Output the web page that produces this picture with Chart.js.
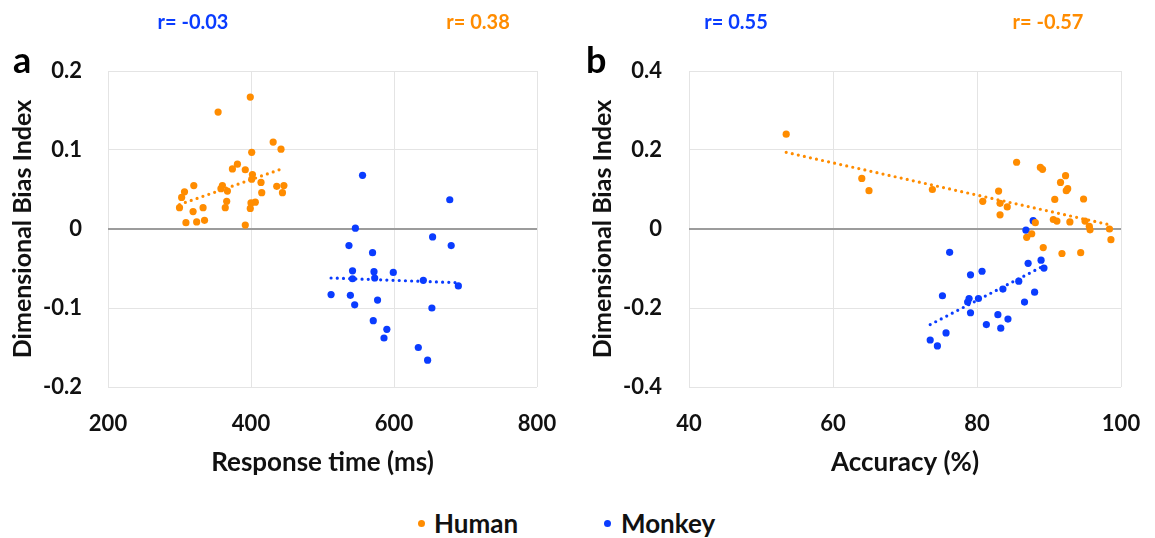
<!DOCTYPE html>
<html>
<head>
<meta charset="utf-8">
<script src="https://cdn.jsdelivr.net/npm/chart.js@4.4.0/dist/chart.umd.min.js"></script>
<style>
  body { margin: 0; background: #fff; font-family: Lato, 'Open Sans', sans-serif; }
  #wrap { position: relative; width: 1155px; height: 538px; overflow: hidden; }
  canvas { position: absolute; top: 0; }
  #chart-a { left: 0; }
  #chart-b { left: 580px; }
  .r-label { position: absolute; top: 9px; font-weight: 700; font-size: 20px; line-height: 1.2; transform: translateX(-50%); white-space: nowrap; }
  .panel-letter { position: absolute; top: 41px; font-weight: 700; font-size: 36px; color: #000; line-height: 1; }
  .legend-dot { position: absolute; top: 520px; width: 7px; height: 7px; border-radius: 50%; }
  .legend-text { position: absolute; top: 508px; font-weight: 700; font-size: 26px; color: #111; line-height: 1.2; }
</style>
</head>
<body>
<div id="wrap">
  <canvas id="chart-a" width="580" height="490"></canvas>
  <canvas id="chart-b" width="575" height="490"></canvas>

  <div class="panel-letter" style="left:13px">a</div>
  <div class="panel-letter" style="left:586px">b</div>

  <div class="r-label" style="left:193px; color:#0a3cff">r= -0.03</div>
  <div class="r-label" style="left:478px; color:#ff8c00">r= 0.38</div>
  <div class="r-label" style="left:736px; color:#0a3cff">r= 0.55</div>
  <div class="r-label" style="left:1048px; color:#ff8c00">r= -0.57</div>

  <div class="legend-dot" style="left:418px; background:#ff8c00"></div>
  <div class="legend-text" style="left:434px">Human</div>
  <div class="legend-dot" style="left:604px; background:#0a3cff"></div>
  <div class="legend-text" style="left:621px">Monkey</div>
</div>

<script>
// ── Panel a: response time (ms) vs dimensional bias index ──
const humanRtA   = [399, 354, 431, 442, 401, 381, 374, 392, 402, 401, 414, 320, 360, 358, 436, 446, 307,
                    367, 415, 444, 303, 366, 400, 406, 300, 333, 364, 399, 319, 309, 324, 335, 392];
const humanDbiA  = [0.167, 0.148, 0.110, 0.101, 0.097, 0.082, 0.076, 0.075, 0.069, 0.063, 0.059, 0.055, 0.055, 0.051, 0.054, 0.055, 0.047,
                    0.048, 0.046, 0.046, 0.040, 0.035, 0.033, 0.034, 0.027, 0.027, 0.027, 0.026, 0.022, 0.008, 0.009, 0.011, 0.005];
const monkeyRtA  = [556, 678, 546, 654, 537, 680, 570, 542, 572, 599, 542, 573, 641, 690, 512, 539, 577, 545, 653, 571, 590, 586, 634, 647];
const monkeyDbiA = [0.068, 0.037, 0.001, -0.010, -0.021, -0.021, -0.030, -0.053, -0.054, -0.055, -0.063, -0.062,
                    -0.065, -0.072, -0.083, -0.084, -0.090, -0.096, -0.100, -0.116, -0.127, -0.138, -0.150, -0.166];
const humanTrendXA  = [300, 446];
const humanTrendYA  = [0.031, 0.077];
const monkeyTrendXA = [512, 690];
const monkeyTrendYA = [-0.062, -0.068];
const xTicksA = [200, 400, 600, 800];
const yTicksA = [-0.2, -0.1, 0, 0.1, 0.2];

// ── Panel b: accuracy (%) vs dimensional bias index ──
const humanAccB  = [53.5, 64.0, 65.0, 73.8, 85.5, 88.8, 89.1, 92.3, 91.6, 92.6, 92.4, 83.0, 80.8, 83.2, 90.8, 94.8,
                    84.2, 83.2, 88.1, 90.6, 91.1, 92.9, 95.0, 95.6, 95.7, 98.4, 98.6, 87.6, 86.9, 89.2, 91.8, 94.4];
const humanDbiB  = [0.240, 0.128, 0.097, 0.100, 0.169, 0.156, 0.151, 0.135, 0.118, 0.102, 0.097, 0.096, 0.070, 0.065, 0.075, 0.076,
                    0.056, 0.036, 0.016, 0.024, 0.020, 0.018, 0.020, 0.007, -0.002, 0.000, -0.027, -0.012, -0.021, -0.047, -0.062, -0.060];
const monkeyAccB = [87.8, 86.8, 76.2, 88.9, 87.1, 89.3, 80.7, 79.1, 85.8, 83.6, 88.0, 75.2, 80.2, 78.9, 78.7, 86.6,
                    79.1, 82.9, 84.3, 81.3, 83.3, 75.7, 73.5, 74.5];
const monkeyDbiB = [0.021, -0.003, -0.059, -0.079, -0.087, -0.099, -0.107, -0.116, -0.132, -0.152, -0.160, -0.169,
                    -0.176, -0.176, -0.185, -0.185, -0.212, -0.217, -0.228, -0.242, -0.251, -0.263, -0.281, -0.296];
const humanTrendXB  = [53.5, 98.6];
const humanTrendYB  = [0.194, 0.010];
const monkeyTrendXB = [73.5, 89.3];
const monkeyTrendYB = [-0.242, -0.093];
const xTicksB = [40, 60, 80, 100];
const yTicksB = [-0.4, -0.2, 0, 0.2, 0.4];

// ── Styling ──
const ORANGE = '#ff8c00';
const BLUE   = '#0a3cff';
const TEXT   = '#111111';
const GRID   = '#e4e4e4';
const ZERO   = '#9c9c9c';
const FONT   = "Lato, 'Open Sans', sans-serif";

const toXY = (xs, ys) => xs.map((x, i) => ({ x, y: ys[i] }));

function pointSet(label, xs, ys, color) {
  return {
    label, data: toXY(xs, ys),
    backgroundColor: color, borderWidth: 0,
    pointRadius: 3.6, pointHoverRadius: 3.6,
  };
}

function trendSet(label, xs, ys, color) {
  return {
    label, data: toXY(xs, ys), showLine: true,
    borderColor: color, borderWidth: 3.2,
    borderDash: [0, 6.2], borderCapStyle: 'round',
    pointRadius: 0, pointHoverRadius: 0, fill: false,
  };
}

function makePanel(canvasId, p) {
  const ctx = document.getElementById(canvasId).getContext('2d');
  return new Chart(ctx, {
    type: 'scatter',
    data: {
      datasets: [
        trendSet('Human trend', p.hTx, p.hTy, ORANGE),
        trendSet('Monkey trend', p.mTx, p.mTy, BLUE),
        pointSet('Human', p.hx, p.hy, ORANGE),
        pointSet('Monkey', p.mx, p.my, BLUE),
      ]
    },
    options: {
      responsive: false,
      animation: false,
      layout: { padding: { top: 71, right: p.padRight, bottom: 0, left: 0 } },
      plugins: { legend: { display: false }, tooltip: { enabled: false } },
      scales: {
        x: {
          type: 'linear', min: p.xTicks[0], max: p.xTicks[p.xTicks.length - 1],
          afterBuildTicks: s => { s.ticks = p.xTicks.map(v => ({ value: v })); },
          // fixed axis height; drop the label overhang so the plot keeps its width
          afterFit: s => { s.height = 103; s.paddingLeft = 0; s.paddingRight = 0; },
          grid: { color: GRID, lineWidth: 1, drawTicks: false },
          border: { display: false },
          ticks: { padding: 24, color: TEXT, font: { family: FONT, size: 22, weight: 'bold' },
                   callback: v => String(v) },
          title: { display: true, text: p.xTitle, color: TEXT,
                   font: { family: FONT, size: 26, weight: 'bold' }, padding: { top: 0, bottom: 12 } },
        },
        y: {
          type: 'linear', min: p.yTicks[0], max: p.yTicks[p.yTicks.length - 1],
          afterBuildTicks: s => { s.ticks = p.yTicks.map(v => ({ value: v })); },
          afterFit: s => { s.width = p.yWidth; },
          grid: {
            drawTicks: false,
            color: c => (c.tick && c.tick.value === 0) ? ZERO : GRID,
            lineWidth: c => (c.tick && c.tick.value === 0) ? 2 : 1,
          },
          border: { display: false },
          ticks: { padding: p.yPad, color: TEXT, font: { family: FONT, size: 22, weight: 'bold' },
                   callback: v => v === 0 ? '0' : v.toFixed(1) },
          title: { display: true, text: 'Dimensional Bias Index', color: TEXT,
                   font: { family: FONT, size: 25, weight: 'bold' }, padding: { top: 8, bottom: 0 } },
        },
      },
    }
  });
}

makePanel('chart-a', {
  hx: humanRtA, hy: humanDbiA, mx: monkeyRtA, my: monkeyDbiA,
  hTx: humanTrendXA, hTy: humanTrendYA, mTx: monkeyTrendXA, mTy: monkeyTrendYA,
  xTicks: xTicksA, yTicks: yTicksA, xTitle: 'Response time (ms)',
  yWidth: 108, yPad: 26, padRight: 43,
});

makePanel('chart-b', {
  hx: humanAccB, hy: humanDbiB, mx: monkeyAccB, my: monkeyDbiB,
  hTx: humanTrendXB, hTy: humanTrendYB, mTx: monkeyTrendXB, mTy: monkeyTrendYB,
  xTicks: xTicksB, yTicks: yTicksB, xTitle: 'Accuracy (%)',
  yWidth: 109, yPad: 27, padRight: 34,
});
</script>
</body>
</html>
